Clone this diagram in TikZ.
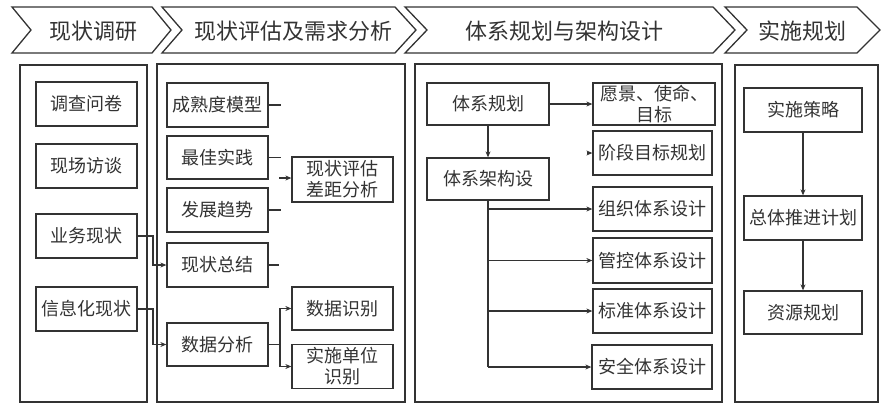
\documentclass[tikz,border=0pt]{standalone}
\usepackage{fontspec}
\setmainfont{Noto Sans CJK SC}
\usetikzlibrary{arrows.meta}
\definecolor{ink}{HTML}{333333}
\tikzset{
  chev/.style={draw=ink, line width=1.3pt, line join=miter},
  panel/.style={draw=ink, line width=1.3pt},
  bx/.style={draw=ink, line width=1.3pt, inner sep=0pt, align=center, text=ink,
    font=\fontsize{18}{21}\selectfont, minimum width=101pt, minimum height=44pt},
  hd/.style={text=ink, font=\fontsize{22}{25}\selectfont, inner sep=0pt},
  ln/.style={draw=ink, line width=1.1pt},
  arr/.style={draw=ink, line width=1.1pt, -{Stealth[length=6pt,width=5pt]}},
}
\begin{document}
\begin{tikzpicture}[x=1pt,y=-1pt]
\useasboundingbox (0,0) rectangle (893,415);
% chevrons
\draw[chev] (12,7) -- (152,7) -- (171,30) -- (152,53) -- (12,53) -- (31,30) -- cycle;
\draw[chev] (162,7) -- (395,7) -- (416,30) -- (395,53) -- (162,53) -- (182,30) -- cycle;
\draw[chev] (405,7) -- (713,7) -- (735,30) -- (713,53) -- (405,53) -- (427,30) -- cycle;
\draw[chev] (725,7) -- (857,7) -- (880,30) -- (857,53) -- (725,53) -- (747,30) -- cycle;
\node[hd] (h1) at (93,31) {现状调研};
\node[hd] (h2) at (293,31) {现状评估及需求分析};
\node[hd] (h3) at (564,31) {体系规划与架构设计};
\node[hd] (h4) at (802,31) {实施规划};
% panels
\draw[panel] (20,65) rectangle (147,402);
\draw[panel] (157,64) rectangle (405,402);
\draw[panel] (415,64) rectangle (722,402);
\draw[panel] (735,65) rectangle (878,402);
% panel 1
\node[bx] (a1) at (86.5,104) {调查问卷};
\node[bx] (a2) at (86.5,166) {现场访谈};
\node[bx] (a3) at (86.5,236) {业务现状};
\node[bx] (a4) at (86.5,309) {信息化现状};
% panel 2
\node[bx] (b1) at (217.5,105) {成熟度模型};
\node[bx, minimum height=43pt] (b2) at (217.5,157.5) {最佳实践};
\node[bx] (b3) at (217.5,210) {发展趋势};
\node[bx] (b4) at (217.5,265) {现状总结};
\node[bx, minimum height=43pt] (b5) at (217.5,344.5) {数据分析};
\node[bx, minimum height=45pt] (c1) at (342.5,179.5) {现状评估\\差距分析};
\node[bx, minimum height=43pt] (c2) at (342.5,308.5) {数据识别};
\node[bx] (c3) at (342.5,366.5) {实施单位\\识别};
% panel 3
\node[bx, minimum width=122pt, minimum height=42pt] (d1) at (488,104) {体系规划};
\node[bx, minimum width=122pt, minimum height=42pt] (d2) at (488,179) {体系架构设};
\node[bx, minimum width=122pt, minimum height=42pt] (e1) at (654,104) {愿景、使命、\\目标};
\node[bx, minimum width=119pt] (e2) at (652.5,153) {阶段目标规划};
\node[bx, minimum width=119pt] (e3) at (652.5,209) {组织体系设计};
\node[bx, minimum width=119pt, minimum height=45pt] (e4) at (652.5,260.5) {管控体系设计};
\node[bx, minimum width=119pt] (e5) at (652.5,311) {标准体系设计};
\node[bx, minimum width=120pt] (e6) at (652,367) {安全体系设计};
% panel 4
\node[bx, minimum width=118pt] (f1) at (803,110) {实施策略};
\node[bx, minimum width=118pt] (f2) at (803,218) {总体推进计划};
\node[bx, minimum width=118pt, minimum height=43pt] (f3) at (803,312.5) {资源规划};
% connectors panel 1 -> 2
\coordinate (j1) at (153,236);
\coordinate (j2) at (153,309);
\draw[arr] (a3.east) -- (j1) |- (b4.west);
\draw[arr] (a4.east) -- (j2) |- (b5.west);
% stubs in panel 2
\draw[ln] (b1.east) -- ++(12,0);
\draw[ln] (b2.east) -- ++(12,0);
\draw[ln] (b3.east) -- ++(12,0);
\draw[ln] (b4.east) -- ++(10,0);
\coordinate (s1) at (279,178);
\draw[arr] (s1) -- (s1 -| c1.west);
\coordinate (k1) at (280,344.5);
\draw[ln] (b5.east) -- (k1);
\draw[arr] (k1) |- (c2.west);
\draw[arr] (k1) |- (c3.west);
% panel 3
\draw[arr] (d1) -- (d2);
\draw[arr] (d1.east) -- (e1.west);
\coordinate (t1) at (587,153);
\draw[arr] (t1) -- (e2.west);
\coordinate (v1) at (488,367);
\draw[ln] (d2.south) -- (v1);
\draw[arr] (d2.south |- e3.west) -- (e3.west);
\draw[arr] (d2.south |- e4.west) -- (e4.west);
\draw[arr] (d2.south |- e5.west) -- (e5.west);
\draw[arr] (v1) -- (e6.west);
% panel 4
\draw[arr] (f1) -- (f2);
\draw[arr] (f2) -- (f3);
\end{tikzpicture}
\end{document}
